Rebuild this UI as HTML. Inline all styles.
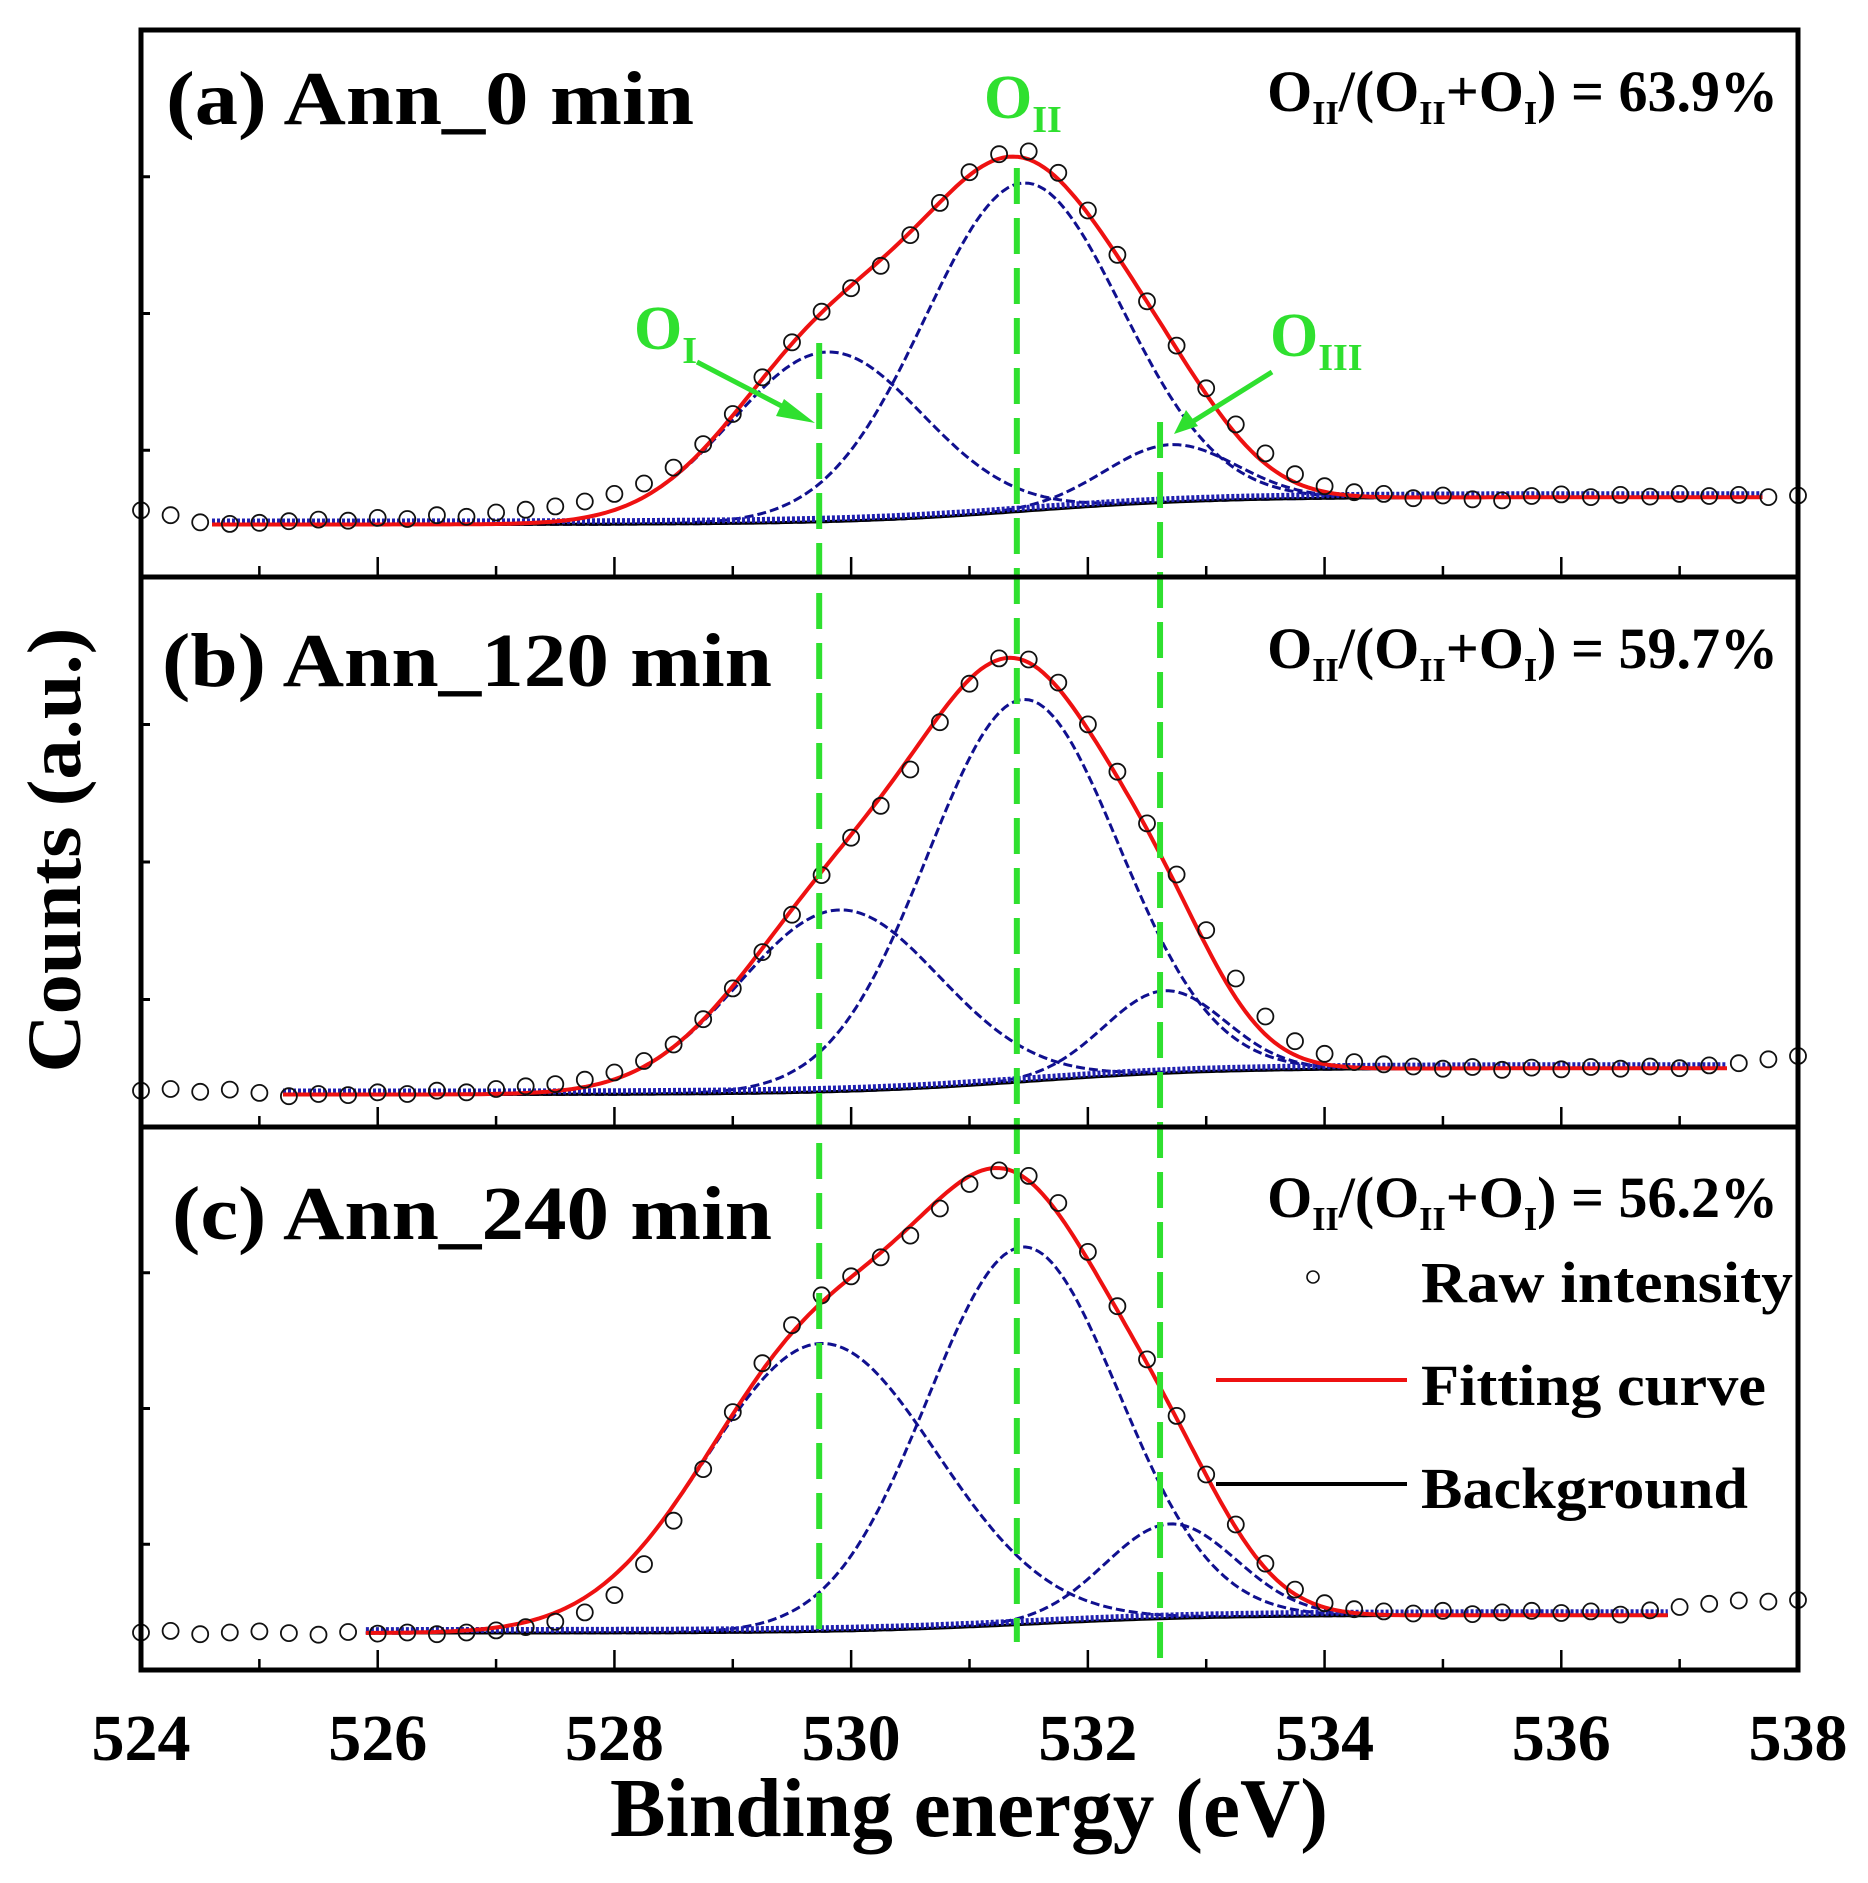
<!DOCTYPE html>
<html><head><meta charset="utf-8"><style>
html,body{margin:0;padding:0;background:#fff;}
svg{display:block;}
text{font-family:"Liberation Serif",serif;font-weight:bold;}
</style></head><body>
<svg id="chart" width="1868" height="1883" viewBox="0 0 1868 1883" xmlns="http://www.w3.org/2000/svg">
<rect x="0" y="0" width="1868" height="1883" fill="#fff"/>
<g id="plots"></g>
<g id="annot"></g>
</svg>
<script>
// ---- data ----
const xTicks = [524, 526, 528, 530, 532, 534, 536, 538];
const rawStart = 524.0;
const rawStep = 0.25;
const rawA = [12.2,11.3,10.0,9.7,9.9,10.2,10.5,10.3,10.8,10.6,11.3,11.0,11.8,12.3,12.9,13.8,15.2,17.1,20.0,24.3,29.8,36.5,42.9,48.5,52.8,56.9,62.5,68.4,74.0,77.3,77.8,73.9,67.0,58.9,50.4,42.3,34.5,27.9,22.6,18.8,16.6,15.5,15.2,14.4,14.9,14.2,14.0,14.8,15.1,14.6,15.0,14.7,15.2,14.8,15.0,14.6,14.9];
const rawB = [6.6,6.9,6.4,6.8,6.2,5.6,6.0,5.8,6.3,6.0,6.6,6.3,6.9,7.4,7.8,8.6,9.9,12.0,15.0,19.6,25.2,31.8,38.6,45.8,52.6,58.4,65.0,73.6,80.6,85.2,85.0,80.8,73.2,64.6,55.2,45.9,35.8,27.0,20.1,15.6,13.3,11.8,11.4,11.0,10.6,10.9,10.4,10.8,10.5,10.9,10.6,11.0,10.7,11.2,11.6,12.3,12.9];
const rawC = [6.9,7.2,6.6,6.9,7.1,6.8,6.5,7.0,6.7,6.9,6.6,6.9,7.3,7.9,8.9,10.6,13.8,19.5,27.5,37.0,47.5,56.5,63.5,69.0,72.5,76.0,80.0,85.0,89.5,92.0,91.0,86.0,77.0,67.0,57.2,46.8,36.0,26.8,19.6,14.8,12.3,11.2,10.8,10.4,10.9,10.3,10.6,10.9,10.5,10.8,10.2,11.0,11.6,12.2,12.8,12.6,12.9];
// peak fit parameters: [O_I, O_II, O_III]
const centersA = [529.8, 531.45, 532.7];
const heightsA = [31, 60, 10.5];
const widthsA = [1.9, 1.95, 1.3];
const centersB = [529.9, 531.45, 532.65];
const heightsB = [33, 69.5, 15];
const widthsB = [2.0, 1.9, 1.2];
const centersC = [529.75, 531.45, 532.7];
const heightsC = [53, 69.5, 17.4];
const widthsC = [2.3, 1.9, 1.3];
const bgLow = [9.6, 5.9, 6.8];
const bgHigh = [14.6, 10.7, 10.1];
const fitRanges = [[524.6, 537.7], [525.2, 537.4], [525.9, 536.9]];
const ratios = ["63.9%", "59.7%", "56.2%"];
const titles = ["(a) Ann_0 min", "(b) Ann_120 min", "(c) Ann_240 min"];
const peakLines = [529.73, 531.4, 532.61];

// ---- layout ----
const NS = "http://www.w3.org/2000/svg";
const L = 141, R = 1798;
const panels = [{top:30,bottom:577},{top:577,bottom:1127},{top:1127,bottom:1670}];
const xS = e => L + (e - 524) / 14 * (R - L);
function yS(p, v){ const P = panels[p]; return P.bottom - v/100*(P.bottom-P.top); }
function mk(tag, attrs, parent){ const el=document.createElementNS(NS,tag); for(const k in attrs) el.setAttribute(k,attrs[k]); (parent||document.getElementById('plots')).appendChild(el); return el; }
function gauss(x,c,h,w){ return h*Math.exp(-2.7726*(x-c)*(x-c)/(w*w)); }
function bg(p,x){ return bgLow[p] + (bgHigh[p]-bgLow[p])/(1+Math.exp(-(x-531.5)/0.8)); }
const raws=[rawA,rawB,rawC], cs=[centersA,centersB,centersC], hs=[heightsA,heightsB,heightsC], ws=[widthsA,widthsB,widthsC];

for(let p=0;p<3;p++){
  const [x0,x1]=fitRanges[p];
  const N=300;
  for(let k=0;k<3;k++){
    let d='';
    for(let i=0;i<=N;i++){ const x=x0+(x1-x0)*i/N; const v=bg(p,x)+gauss(x,cs[p][k],hs[p][k],ws[p][k]); d+=(i?'L':'M')+xS(x).toFixed(1)+' '+yS(p,v).toFixed(1); }
    const el=mk('path',{d:d,fill:'none',stroke:'#10108f','stroke-width':3,'stroke-dasharray':'9 4'});
    
    
  }
  let db='';
  for(let i=0;i<=N;i++){ const x=x0+(x1-x0)*i/N; db+=(i?'L':'M')+xS(x).toFixed(1)+' '+yS(p,bg(p,x)).toFixed(1); }
  const be=mk('path',{d:db,fill:'none',stroke:'#000','stroke-width':3});
  
  
  const bb=mk('path',{d:db,fill:'none',stroke:'#2020b0','stroke-width':6,'stroke-dasharray':'3 2',transform:'translate(0,-3)'});
  
  
  let df='';
  for(let i=0;i<=N;i++){ const x=x0+(x1-x0)*i/N; let v=bg(p,x); for(let k=0;k<3;k++) v+=gauss(x,cs[p][k],hs[p][k],ws[p][k]); df+=(i?'L':'M')+xS(x).toFixed(1)+' '+yS(p,v).toFixed(1); }
  const fe=mk('path',{d:df,fill:'none',stroke:'#ee1111','stroke-width':4});
  
  
  raws[p].forEach((v,i)=>{
    const c=mk('circle',{cx:xS(rawStart+i*rawStep).toFixed(1),cy:yS(p,v).toFixed(1),r:8,fill:'none',stroke:'#111','stroke-width':1.8});
    
    
  });
  const t=mk('text',{x:[166,162,172][p],y:[124,686,1239][p],'font-size':76,fill:'#000',textLength:[528,610,600][p],lengthAdjust:'spacingAndGlyphs'});
  t.textContent=titles[p];
  
  
  const rt=mk('text',{x:1778,y:[111,668,1217][p],'font-size':58,'text-anchor':'end',fill:'#000'});
  rt.innerHTML='O<tspan font-size="34" dy="13">II</tspan><tspan dy="-13">/(O</tspan><tspan font-size="34" dy="13">II</tspan><tspan dy="-13">+O</tspan><tspan font-size="34" dy="13">I</tspan><tspan dy="-13">) = '+ratios[p]+'</tspan>';
  
  
  for(let j=1;j<=3;j++){
    const yy=panels[p].bottom-j*(panels[p].bottom-panels[p].top)/4+10;
    const tk=mk('line',{x1:L,x2:L+9,y1:yy,y2:yy,stroke:'#000','stroke-width':3});
    
    
  }
  for(let e=525;e<=537;e++){
    const major = e%2===0;
    const tk=mk('line',{x1:xS(e),x2:xS(e),y1:panels[p].bottom,y2:panels[p].bottom-(major?20:11),stroke:'#000','stroke-width':2.5});
    
    
  }
}
const plTop=[343,168,422], plBot=[1642,1642,1658];
peakLines.forEach((e,i)=>{
  const ln=mk('line',{x1:xS(e),x2:xS(e),y1:plTop[i],y2:plBot[i],stroke:'#2fe02f','stroke-width':6,'stroke-dasharray':'36 14'});
  
  
});
panels.forEach((P,i)=>{
  const fr=mk('rect',{x:L,y:P.top,width:R-L,height:P.bottom-P.top,fill:'none',stroke:'#000','stroke-width':5});
  
  
});
xTicks.forEach(e=>{
  const t=mk('text',{x:xS(e),y:1760,'font-size':66,'text-anchor':'middle',fill:'#000'});
  t.textContent=e;
  
  
});
</script>
<script>
(function(){
const a=document.getElementById('annot');
a.innerHTML=`
<text x="969" y="1836" font-size="84" text-anchor="middle" textLength="718" lengthAdjust="spacingAndGlyphs">Binding energy (eV)</text>
<text x="0" y="0" font-size="76" text-anchor="middle" textLength="445" lengthAdjust="spacingAndGlyphs" transform="translate(80,850) rotate(-90)">Counts (a.u.)</text>
<text x="634" y="349" font-size="62" fill="#2fe02f">O<tspan font-size="38" dy="14">I</tspan></text>
<text x="984" y="118" font-size="62" fill="#2fe02f">O<tspan font-size="38" dy="14">II</tspan></text>
<text x="1270" y="356" font-size="62" fill="#2fe02f">O<tspan font-size="38" dy="14">III</tspan></text>
<g stroke="#2fe02f" fill="#2fe02f">
<line x1="697" y1="362" x2="795" y2="413" stroke-width="5"/>
<polygon points="815,423 784,399 776,416" stroke="none"/>
</g>
<g stroke="#2fe02f" fill="#2fe02f">
<line x1="1272" y1="372" x2="1192" y2="422" stroke-width="5"/>
<polygon points="1174,434 1186,410 1198,426" stroke="none"/>
</g>
<g>
<circle cx="1313" cy="1277" r="6" fill="none" stroke="#111" stroke-width="1.6"/>
<text x="1421" y="1302" font-size="58" textLength="372" lengthAdjust="spacingAndGlyphs">Raw intensity</text>
<line x1="1216" x2="1407" y1="1380" y2="1380" stroke="#ee1111" stroke-width="4"/>
<text x="1421" y="1405" font-size="58" textLength="345" lengthAdjust="spacingAndGlyphs">Fitting curve</text>
<line x1="1216" x2="1407" y1="1484" y2="1484" stroke="#000" stroke-width="4"/>
<text x="1421" y="1508" font-size="58" textLength="327" lengthAdjust="spacingAndGlyphs">Background</text>
</g>`;
})();
</script>
</body></html>
